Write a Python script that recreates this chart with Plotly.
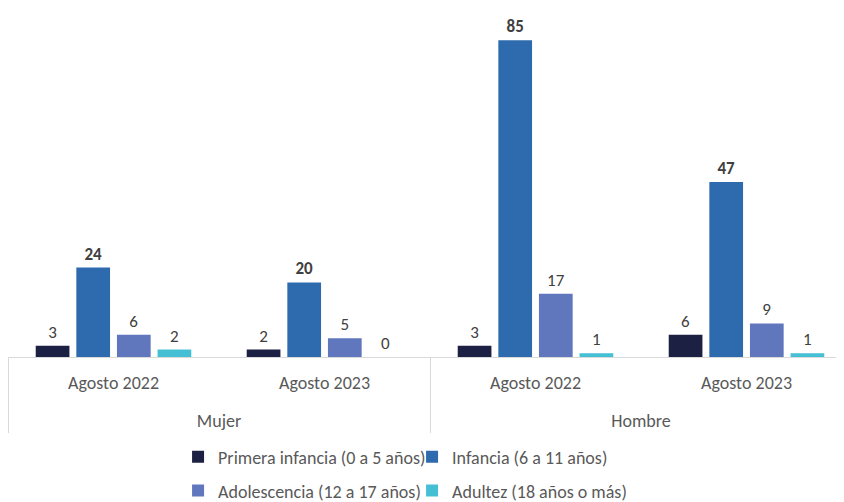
import plotly.graph_objects as go

# Categorías del eje (nivel exterior e interior)
sexo = ["Mujer", "Mujer", "Hombre", "Hombre"]
periodo = ["Agosto 2022", "Agosto 2023", "Agosto 2022", "Agosto 2023"]

# Series por grupo de edad
primera_infancia = [3, 2, 3, 6]
infancia = [24, 20, 85, 47]
adolescencia = [6, 5, 17, 9]
adultez = [2, 0, 1, 1]

series = [
    ("Primera infancia (0 a 5 años)", primera_infancia, "#1c2143", False, "legend"),
    ("Infancia (6 a 11 años)", infancia, "#2e6aae", True, "legend"),
    ("Adolescencia (12 a 17 años)", adolescencia, "#6177bd", False, "legend2"),
    ("Adultez (18 años o más)", adultez, "#45bfd3", False, "legend2"),
]

FONT = "Carlito, Lato, sans-serif"

fig = go.Figure()
for name, vals, color, bold, leg in series:
    fig.add_trace(go.Bar(
        x=[sexo, [p + "<br> " for p in periodo]],
        y=vals,
        name=name,
        marker=dict(color=color, line=dict(width=0)),
        text=vals,
        texttemplate="<b>%{y}</b>" if bold else "%{y}",
        textposition="outside",
        cliponaxis=False,
        textfont=dict(family=FONT, size=17, color="#404040"),
        legend=leg,
    ))

legend_common = dict(
    orientation="h",
    xanchor="left",
    yanchor="middle",
    font=dict(family=FONT, size=18, color="#595959"),
    itemwidth=30,
    entrywidth=189,
    bgcolor="rgba(0,0,0,0)",
    itemclick=False,
)

fig.update_layout(
    width=844,
    height=502,
    barmode="group",
    bargap=0.23,
    bargroupgap=0.17,
    plot_bgcolor="white",
    paper_bgcolor="white",
    margin=dict(l=0, r=0, t=10, b=144),
    font=dict(family=FONT, size=18, color="#595959"),
    xaxis=dict(
        type="multicategory",
        automargin=False,
        showline=True,
        linecolor="#d9d9d9",
        linewidth=1,
        showdividers=True,
        dividercolor="#d9d9d9",
        dividerwidth=1,
        ticks="",
        ticklabelstandoff=9,
        tickfont=dict(family=FONT, size=18, color="#595959"),
        showgrid=False,
    ),
    yaxis=dict(
        range=[0, 91],
        visible=False,
        showgrid=False,
        zeroline=False,
    ),
    legend=dict(x=0.2015, y=-0.295, **legend_common),
    legend2=dict(x=0.2015, y=-0.395, **legend_common),
)

fig.write_html("out.html")
